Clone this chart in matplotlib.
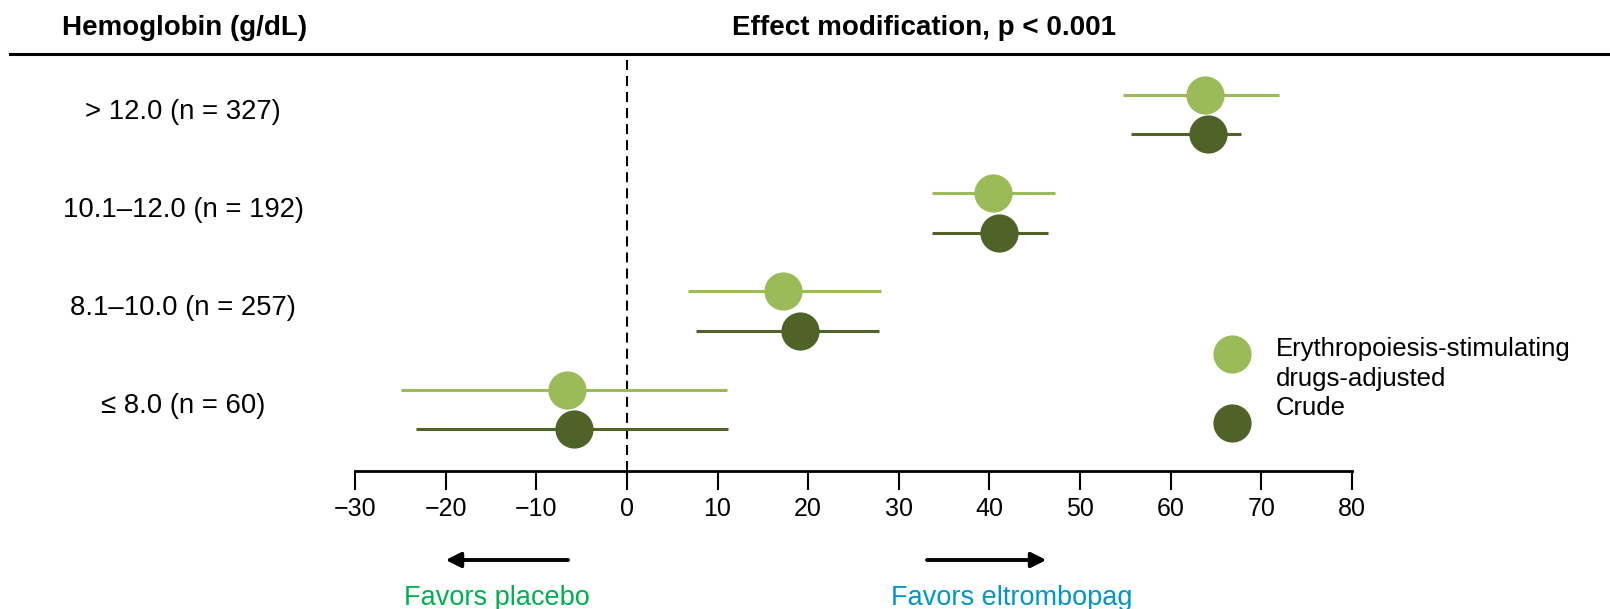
import numpy as np
import matplotlib
matplotlib.use('Agg')
import matplotlib.pyplot as plt
from matplotlib.lines import Line2D
import matplotlib.transforms as mtransforms

plt.rcParams['font.family'] = ['Liberation Sans', 'DejaVu Sans']

# data
groups = ['> 12.0 (n = 327)', '10.1\u201312.0 (n = 192)', '8.1\u201310.0 (n = 257)', '\u2264 8.0 (n = 60)']
adj_est = [63.8, 40.4, 17.2, -6.6]
adj_lo = [54.7, 33.7, 6.7, -24.9]
adj_hi = [72.0, 47.2, 28.0, 11.0]
crude_est = [64.1, 41.0, 19.1, -5.8]
crude_lo = [55.6, 33.7, 7.6, -23.3]
crude_hi = [67.8, 46.5, 27.8, 11.1]
xticks = [-30, -20, -10, 0, 10, 20, 30, 40, 50, 60, 70, 80]

light = '#9BBB59'
dark = '#4F6228'

fig = plt.figure(figsize=(16.1, 6.09), dpi=100)
ax = fig.add_axes([355/1610, 138/609, 997/1610, 417/609])

y = np.arange(len(groups))
off = 0.2
ax.hlines(y - off, adj_lo, adj_hi, color=light, lw=2.2, zorder=2)
ax.plot(adj_est, y - off, 'o', color=light, ms=27.5, mec='none', zorder=3)
ax.hlines(y + off, crude_lo, crude_hi, color=dark, lw=2.2, zorder=4)
ax.plot(crude_est, y + off, 'o', color=dark, ms=27.5, mec='none', zorder=5)

ax.axvline(0, color='black', lw=1.5, dashes=(4.8, 2.9), zorder=1)

ax.set_xlim(-30, 80)
ax.set_ylim(3.63, -0.62)
ax.set_xticks(xticks)
ax.set_xticklabels([str(t).replace('-', '\u2212') for t in xticks], fontsize=18)
ax.tick_params(axis='x', length=13.5, width=1.5, pad=5, direction='out')
ax.set_yticks([])
for s in ['left', 'top', 'right']:
    ax.spines[s].set_visible(False)
ax.spines['bottom'].set_linewidth(2)

# row labels
tr = mtransforms.blended_transform_factory(fig.transFigure, ax.transData)
for i, g in enumerate(groups):
    ax.text(183/1610, i - 0.03, g, transform=tr, ha='center', va='center', fontsize=19.8)

# headers
fig.text(185/1610, 1 - 28/609, 'Hemoglobin (g/dL)', ha='center', va='center', fontsize=20, fontweight='bold')
fig.text(924/1610, 1 - 28/609, 'Effect modification, p < 0.001', ha='center', va='center', fontsize=20, fontweight='bold')
fig.add_artist(Line2D([10/1610, 1], [1 - 54/609, 1 - 54/609], color='black', lw=2.2))

# legend
ax.plot([0.8796], [0.281], 'o', transform=ax.transAxes, color=light, ms=27.5, mec='none', clip_on=False)
ax.plot([0.8796], [0.115], 'o', transform=ax.transAxes, color=dark, ms=27.5, mec='none', clip_on=False)
ax.text(0.9238, 0.2926, 'Erythropoiesis-stimulating', transform=ax.transAxes, va='center', fontsize=18.5)
ax.text(0.9238, 0.2206, 'drugs-adjusted', transform=ax.transAxes, va='center', fontsize=18.5)
ax.text(0.9238, 0.151, 'Crude', transform=ax.transAxes, va='center', fontsize=18.5)

# arrows
arrow_y = 609 - 560
ap = dict(arrowstyle='-|>,head_length=0.9,head_width=0.45', lw=2.5, color='black', shrinkA=0, shrinkB=0)
fig.add_artist(plt.annotate('', xy=(446, arrow_y), xytext=(568, arrow_y), xycoords='figure pixels', textcoords='figure pixels', arrowprops=ap))
fig.add_artist(plt.annotate('', xy=(1046, arrow_y), xytext=(927, arrow_y), xycoords='figure pixels', textcoords='figure pixels', arrowprops=ap))
fig.text(497/1610, 4/609, 'Favors placebo', ha='center', va='baseline', fontsize=19.5, color='#00B050')
fig.text(1012/1610, 4/609, 'Favors eltrombopag', ha='center', va='baseline', fontsize=19.5, color='#0096C8')

fig.savefig('out.png', dpi=100)
